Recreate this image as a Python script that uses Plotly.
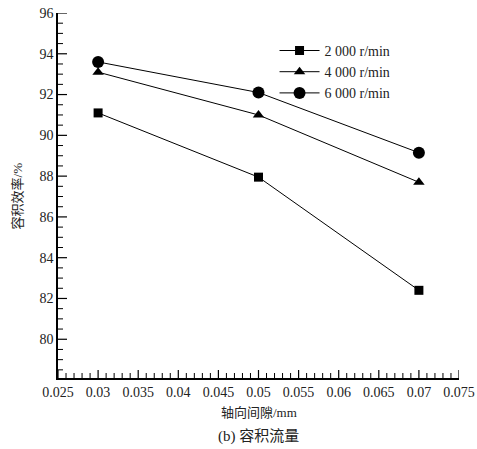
import plotly.graph_objects as go

gap = [0.03, 0.05, 0.07]
eff_2000 = [91.1, 87.95, 82.4]
eff_4000 = [93.1, 91.0, 87.7]
eff_6000 = [93.6, 92.1, 89.15]
names = ["2 000 r/min", "4 000 r/min", "6 000 r/min"]
x_ticks = [0.025, 0.03, 0.035, 0.04, 0.045, 0.05, 0.055, 0.06, 0.065, 0.07, 0.075]
x_tick_text = ["0.025", "0.03", "0.035", "0.04", "0.045", "0.05", "0.055", "0.06", "0.065", "0.07", "0.075"]
y_ticks = [80, 82, 84, 86, 88, 90, 92, 94, 96]

serif = "Liberation Serif"
cjk = "Liberation Serif, Noto Sans CJK SC"

W, H = 477, 449
ML, MR, MT, MB = 58, 18, 13, 71
PW, PH = W - ML - MR, H - MT - MB
X_RANGE = [0.025, 0.075]
Y_RANGE = [78.1, 96]

fig = go.Figure()
series = [(eff_2000, "square", 9), (eff_4000, "triangle-up", 10), (eff_6000, "circle", 12)]
for (vals, sym, sz), nm in zip(series, names):
    fig.add_trace(go.Scatter(
        x=gap, y=vals, name=nm, mode="lines+markers",
        line=dict(color="black", width=1),
        marker=dict(symbol=sym, size=sz, color="black"),
    ))

# axis tick marks (inside), derived from the tick arrays
shapes = []
x_minor_step = (x_ticks[1] - x_ticks[0]) / 5
for i, xv in enumerate(x_ticks):
    shapes.append(dict(type="line", xref="x", yref="paper", x0=xv, x1=xv, y0=0, y1=8 / PH,
                       line=dict(color="black", width=1.2)))
    if i < len(x_ticks) - 1:
        for k in range(1, 5):
            xm = xv + k * x_minor_step
            shapes.append(dict(type="line", xref="x", yref="paper", x0=xm, x1=xm, y0=0, y1=5 / PH,
                               line=dict(color="black", width=1)))
y_minor_step = (y_ticks[1] - y_ticks[0]) / 4
y_minor_vals = []
v = y_ticks[-1]
while v > Y_RANGE[0] + 1e-9:
    y_minor_vals.append(v)
    v -= y_minor_step
for yv in y_minor_vals:
    major = any(abs(yv - t) < 1e-9 for t in y_ticks)
    ln = 9 if major else 5
    shapes.append(dict(type="line", xref="paper", yref="y", x0=0, x1=ln / PW, y0=yv, y1=yv,
                       line=dict(color="black", width=1.2 if major else 1)))

fig.update_layout(
    template="none",
    width=W, height=H,
    margin=dict(l=ML, r=MR, t=MT, b=MB),
    paper_bgcolor="white", plot_bgcolor="white",
    font=dict(family=serif, size=14, color="#222"),
    showlegend=True,
    legend=dict(x=0.54, y=0.94, xanchor="left", yanchor="top",
                bgcolor="rgba(0,0,0,0)", font=dict(size=14, family=serif, color="#222"),
                tracegroupgap=0, itemwidth=40),
    shapes=shapes,
    xaxis=dict(range=X_RANGE, tickmode="array", tickvals=x_ticks, ticktext=x_tick_text,
               automargin=False,
               showgrid=False, zeroline=False, showline=True, linecolor="black", linewidth=1.5,
               ticks="", tickfont=dict(size=14, family=serif, color="#222")),
    yaxis=dict(range=Y_RANGE, tickmode="array", tickvals=y_ticks,
               automargin=False,
               showgrid=False, zeroline=False, showline=True, linecolor="black", linewidth=1.5,
               ticks="", tickfont=dict(size=14, family=serif, color="#222")),
)

fig.add_annotation(text="容积效率/%", xref="paper", yref="paper", x=-0.1, y=0.5,
                   xanchor="center", yanchor="middle",
                   showarrow=False, textangle=-90, font=dict(size=13, family=cjk, color="#222"))
fig.add_annotation(text="轴向间隙/mm", xref="paper", yref="paper", x=0.5, y=-0.095,
                   xanchor="center", yanchor="middle", showarrow=False,
                   font=dict(size=13, family=cjk, color="#222"))
fig.add_annotation(text="(b) 容积流量", xref="paper", yref="paper", x=0.5, y=-0.16,
                   xanchor="center", yanchor="middle", showarrow=False,
                   font=dict(size=15, family=cjk, color="#222"))

fig.write_html("out.html", config={"displayModeBar": False},
               post_script="document.body.style.margin='0';")
